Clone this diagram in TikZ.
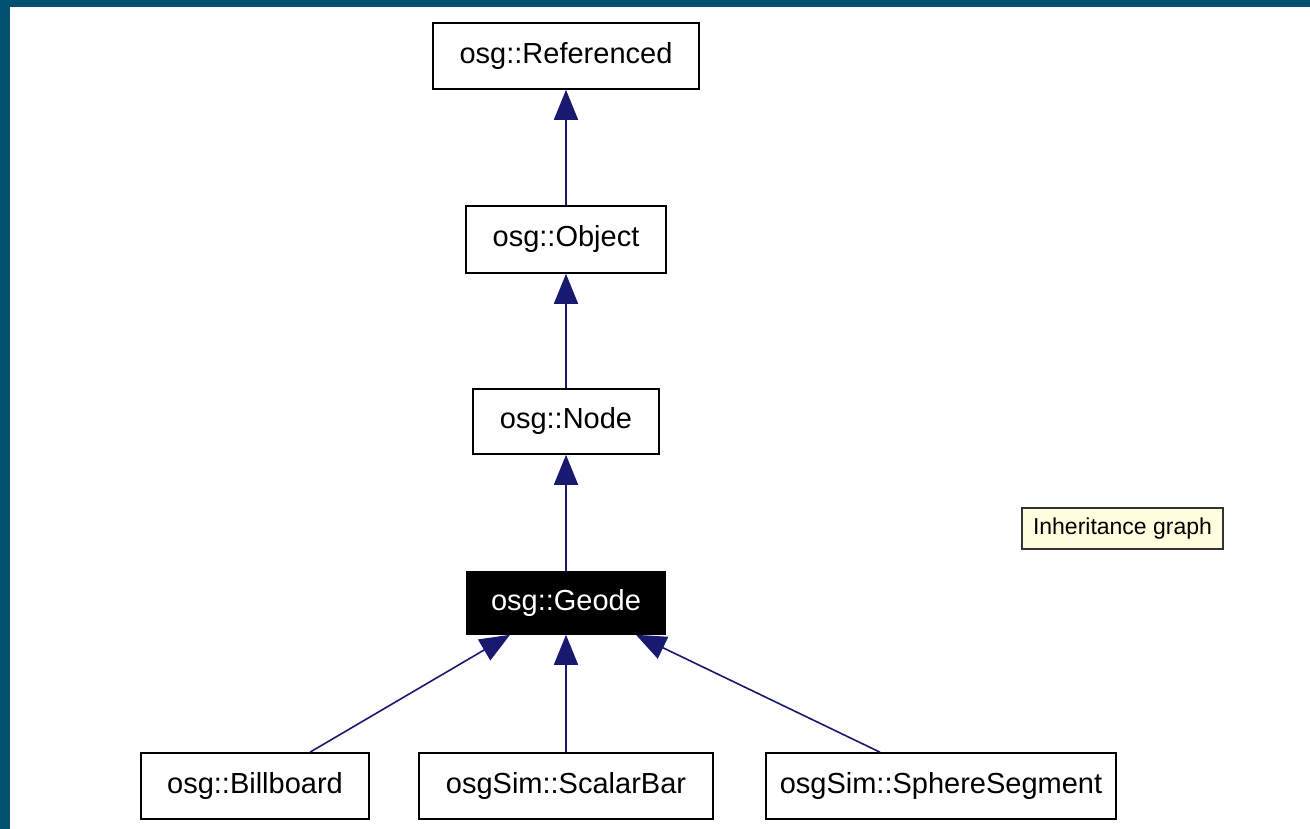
\documentclass[tikz,border=0pt]{standalone}
\usepackage{fontspec}
\setmainfont{Liberation Sans}
\usetikzlibrary{arrows.meta,calc}
\definecolor{frame}{HTML}{00516F}
\definecolor{edgeblue}{HTML}{191970}
\definecolor{notefill}{HTML}{FFFFE0}
\tikzset{
  cls/.style={draw=black, line width=1.6pt, fill=white, inner sep=0pt,
    font=\fontsize{29}{34}\selectfont},
  current/.style={cls, fill=black, text=white},
  inherit/.style={draw=edgeblue, line width=1.6pt,
    -{Triangle[length=30pt,width=24pt]}},
  note/.style={draw=black!80, line width=1.4pt, fill=notefill, inner sep=0pt,
    font=\fontsize{23}{28}\selectfont}
}
\begin{document}
\begin{tikzpicture}[x=1pt,y=1pt]
\useasboundingbox (0,0) rectangle (1310,829);
\fill[white] (0,0) rectangle (1310,829);
% page frame strips
\fill[frame] (0,822) rectangle (1310,829);
\fill[frame] (0,0) rectangle (10,829);

% class boxes
\node[cls, minimum width=266pt, minimum height=66pt] (ref) at (566,773) {osg::Referenced};
\node[cls, minimum width=200pt, minimum height=67pt] (obj) at (566,589.5) {osg::Object};
\node[cls, minimum width=186pt, minimum height=65pt] (nod) at (566,407.5) {osg::Node};
\node[current, minimum width=198pt, minimum height=62pt] (geo) at (566,226) {osg::Geode};
\node[cls, minimum width=228pt, minimum height=66pt] (bb) at (255,43) {osg::Billboard};
\node[cls, minimum width=294pt, minimum height=66pt] (sb) at (566,43) {osgSim::ScalarBar};
\node[cls, minimum width=350pt, minimum height=66pt] (ss) at (941,43) {osgSim::SphereSegment};

% legend tag
\node[note, minimum width=201pt, minimum height=41pt] (leg) at (1122.5,300.5) {Inheritance graph};

% inheritance edges, child to parent
\draw[inherit] (obj.north) -- (ref.south);
\draw[inherit] (nod.north) -- (obj.south);
\draw[inherit] (geo.north) -- (nod.south);
\draw[inherit] (sb.north) -- (geo.south);
\draw[inherit] ([xshift=55pt]bb.north) -- ([xshift=-56pt]geo.south);
\draw[inherit] ([xshift=-61pt]ss.north) -- ([xshift=70pt]geo.south);
\end{tikzpicture}
\end{document}
